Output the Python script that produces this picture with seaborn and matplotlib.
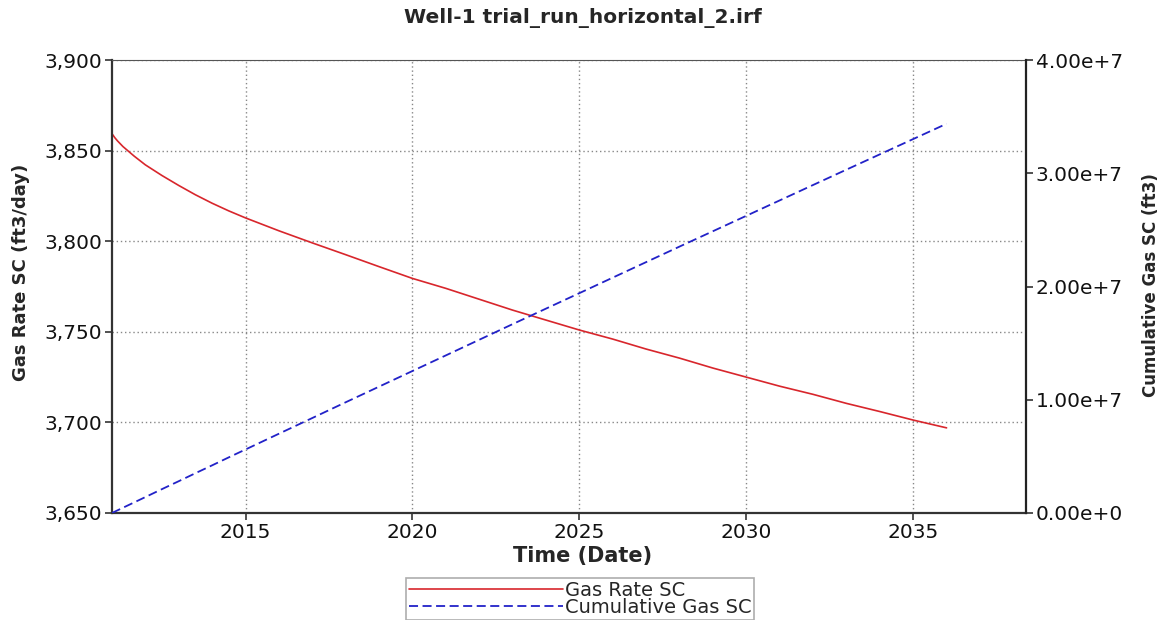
import matplotlib
matplotlib.use("Agg")
import matplotlib.pyplot as plt
import matplotlib.dates as mdates
from matplotlib.ticker import FuncFormatter, MultipleLocator
import numpy as np
import pandas as pd
import seaborn as sns

# values
dates = ["2011-01-01", "2011-02-01", "2011-03-01", "2011-05-01", "2011-09-01",
         "2012-01-01", "2012-07-01", "2013-01-01", "2013-07-01", "2014-01-01",
         "2014-07-01", "2015-01-01", "2016-01-01", "2017-01-01", "2018-01-01",
         "2019-01-01", "2020-01-01", "2021-01-01", "2022-01-01", "2023-01-01",
         "2024-01-01", "2025-01-01", "2026-01-01", "2027-01-01", "2028-01-01",
         "2029-01-01", "2030-01-01", "2031-01-01", "2032-01-01", "2033-01-01",
         "2034-01-01", "2035-01-01", "2036-01-01"]
gas_rate = [3859.4, 3857.2, 3855.5, 3852.3, 3847.0,
            3842.2, 3836.3, 3830.8, 3825.7, 3821.0,
            3816.8, 3812.9, 3805.8, 3799.1, 3792.6,
            3786.0, 3779.5, 3774, 3768, 3762,
            3756.5, 3751, 3746, 3740.5, 3735.5,
            3730, 3725, 3720, 3715.5, 3710.5,
            3706, 3701.3, 3697]
cum_gas = [0.0, 0.120e6, 0.228e6, 0.463e6, 0.935e6,
           1.405e6, 2.108e6, 2.81e6, 3.51e6, 4.21e6,
           4.91e6, 5.61e6, 7.00e6, 8.39e6, 9.78e6,
           1.116e7, 1.254e7, 1.392e7, 1.530e7, 1.668e7,
           1.805e7, 1.942e7, 2.079e7, 2.216e7, 2.353e7,
           2.489e7, 2.625e7, 2.761e7, 2.897e7, 3.033e7,
           3.168e7, 3.303e7, 3.438e7]

df = pd.DataFrame({"Date": pd.to_datetime(dates), "rate": gas_rate, "cum": cum_gas})

sns.set_style("white")
plt.rcParams["font.family"] = ["DejaVu Sans"]

fig = plt.figure(figsize=(11.7, 6.2), dpi=100)
ax = fig.add_axes([0.0957, 0.1726, 0.7813, 0.7304])
ax2 = ax.twinx()

sns.lineplot(data=df, x="Date", y="rate", ax=ax, color="#d8262c", linewidth=1.2,
             label="Gas Rate SC", legend=False)
sns.lineplot(data=df, x="Date", y="cum", ax=ax2, color="#2222c8", linewidth=1.3,
             label="Cumulative Gas SC", legend=False)
ax2.lines[0].set_dashes([5, 2.5])

ax.set_xlim(pd.Timestamp("2011-01-01"), pd.Timestamp("2038-05-20"))
ax.set_ylim(3650, 3900)
ax2.set_ylim(0, 4e7)

ax.xaxis.set_major_locator(mdates.YearLocator(5))
ax.xaxis.set_major_formatter(mdates.DateFormatter("%Y"))
ax.yaxis.set_major_locator(MultipleLocator(50))
ax.yaxis.set_major_formatter(FuncFormatter(lambda v, p: f"{v:,.0f}"))
ax2.yaxis.set_major_locator(MultipleLocator(1e7))


def sci(v, p):
    if v == 0:
        return "0.00e+0"
    e = int(np.floor(np.log10(abs(v))))
    return f"{v / 10**e:.2f}e+{e}"


ax2.yaxis.set_major_formatter(FuncFormatter(sci))

ax.grid(True, color="#888888", linestyle=(0, (1, 2)), linewidth=1.0)
ax.tick_params(axis="both", labelsize=14.5, length=5, width=1.2, color="#333333",
               labelcolor="#111111", direction="out", pad=2, bottom=True, left=True)
ax2.tick_params(axis="y", labelsize=14.5, length=5, width=1.2, color="#333333",
                labelcolor="#111111", direction="out", pad=2, right=True)
for sp in ["left", "bottom"]:
    ax.spines[sp].set_color("#333333")
    ax.spines[sp].set_linewidth(1.6)
ax.spines["top"].set_color("#555555")
ax.spines["right"].set_visible(False)
ax2.spines["right"].set_color("#222222")
ax2.spines["right"].set_linewidth(1.6)
for sp in ["left", "top", "bottom"]:
    ax2.spines[sp].set_visible(False)

ax.set_xlabel("Time (Date)", fontsize=15, fontweight="bold")
ax.set_ylabel("Gas Rate SC (ft3/day)", fontsize=13, fontweight="bold")
ax2.set_ylabel("Cumulative Gas SC (ft3)", fontsize=12, fontweight="bold")
ax.xaxis.set_label_coords(0.515, -0.073)
ax.yaxis.set_label_coords(-0.0897, 0.532)
ax2.yaxis.set_label_coords(1.127, 0.503)
fig.text(0.498, 0.971, "Well-1 trial_run_horizontal_2.irf", fontsize=14.5,
         fontweight="bold", ha="center", va="center")

handles = ax.get_lines()[:1] + ax2.get_lines()[:1]
leg = fig.legend(handles, ["Gas Rate SC", "Cumulative Gas SC"], loc="upper center",
                 bbox_to_anchor=(0.496, 0.068), ncol=1, fontsize=14, frameon=True,
                 fancybox=False, edgecolor="#999999", handlelength=7.9,
                 handletextpad=0.1, borderpad=0.15, labelspacing=-0.1, borderaxespad=0)
leg.get_frame().set_linewidth(1.2)

fig.savefig("out.png", dpi=100)
